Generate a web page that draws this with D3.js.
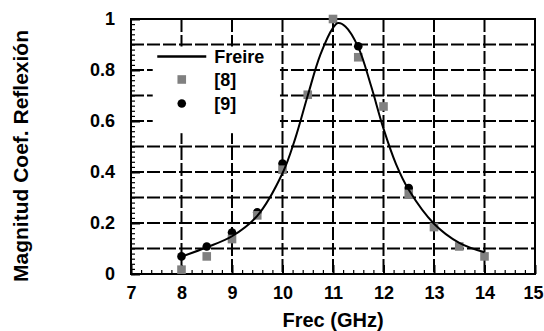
<!DOCTYPE html>
<html>
<head>
<meta charset="utf-8">
<script src="https://cdn.jsdelivr.net/npm/d3@7"></script>
<style>
  body { margin: 0; background: #fff; }
  svg text { font-family: "Liberation Sans", Arial, sans-serif; font-weight: bold; fill: #000; }
</style>
</head>
<body>
<div id="chart"></div>
<script>
// Freire (model curve)
const freireFreq = [8, 8.5, 9, 9.5, 10, 10.25, 10.5, 10.75, 11, 11.1, 11.25, 11.5, 11.75, 12, 12.25, 12.5, 13, 13.5, 14];
const freireMag  = [0.068, 0.105, 0.148, 0.228, 0.395, 0.53, 0.70, 0.86, 0.965, 0.984, 0.97, 0.89, 0.74, 0.57, 0.43, 0.33, 0.197, 0.122, 0.085];

// reference [8] (grey squares)
const ref8Freq = [8, 8.5, 9, 9.5, 10, 10.5, 11, 11.5, 12, 12.5, 13, 13.5, 14];
const ref8Mag  = [0.017, 0.069, 0.137, 0.23, 0.409, 0.703, 1.0, 0.85, 0.657, 0.314, 0.184, 0.108, 0.069];

// reference [9] (black dots)
const ref9Freq = [8, 8.5, 9, 9.5, 10, 11.5, 12.5];
const ref9Mag  = [0.069, 0.108, 0.163, 0.242, 0.433, 0.893, 0.337];

const xTicks = [7, 8, 9, 10, 11, 12, 13, 14, 15];
const yTicks = [0, 0.2, 0.4, 0.6, 0.8, 1];
const yTickLabels = ['0', '0.2', '0.4', '0.6', '0.8', '1'];

const width = 544, height = 331;
const margin = { top: 19, right: 9, bottom: 57, left: 131 };
const w = width - margin.left - margin.right;
const h = height - margin.top - margin.bottom;

const svg = d3.select('#chart').append('svg')
  .attr('width', width)
  .attr('height', height);

const g = svg.append('g')
  .attr('transform', `translate(${margin.left},${margin.top})`);

const x = d3.scaleLinear().domain([7, 15]).range([0, w]);
const y = d3.scaleLinear().domain([0, 1]).range([h, 0]);

// dashed grid
g.selectAll('.vgrid')
  .data(d3.range(8, 15))
  .enter().append('line')
  .attr('x1', d => x(d)).attr('x2', d => x(d))
  .attr('y1', 0).attr('y2', h)
  .attr('stroke', '#000').attr('stroke-width', 2)
  .attr('stroke-dasharray', '13,3');

g.selectAll('.hgrid')
  .data(d3.range(1, 10).map(d => d / 10))
  .enter().append('line')
  .attr('x1', 0).attr('x2', w)
  .attr('y1', d => y(d)).attr('y2', d => y(d))
  .attr('stroke', '#000').attr('stroke-width', 2)
  .attr('stroke-dasharray', '13,3');

// minor / major ticks pointing inwards
const xMinor = d3.range(7, 15.001, 0.2);
const yMinor = d3.range(0, 1.001, 0.02);

g.append('g')
  .attr('transform', `translate(0,${h})`)
  .call(d3.axisBottom(x).tickValues(xMinor).tickSize(-4).tickFormat(''))
  .call(a => a.select('.domain').remove())
  .selectAll('line').attr('stroke-width', 1.2);

g.append('g')
  .attr('transform', `translate(0,${h})`)
  .call(d3.axisBottom(x).tickValues(xTicks).tickSize(-9).tickPadding(12)
    .tickFormat(d3.format('d')))
  .call(a => a.select('.domain').remove())
  .call(a => a.selectAll('line').attr('stroke-width', 2))
  .selectAll('text')
  .style('font-size', '18px')
  .attr('dx', d => d === 15 ? -2 : 0);

g.append('g')
  .call(d3.axisLeft(y).tickValues(yMinor).tickSize(-4).tickFormat(''))
  .call(a => a.select('.domain').remove())
  .selectAll('line').attr('stroke-width', 1.2);

g.append('g')
  .call(d3.axisLeft(y).tickValues(yTicks).tickSize(-9).tickPadding(16)
    .tickFormat((d, i) => yTickLabels[i]))
  .call(a => a.select('.domain').remove())
  .call(a => a.selectAll('line').attr('stroke-width', 2))
  .selectAll('text')
  .style('font-size', '18px');

// frame
g.append('rect')
  .attr('x', 0).attr('y', 0)
  .attr('width', w).attr('height', h)
  .attr('fill', 'none')
  .attr('stroke', '#000')
  .attr('stroke-width', 2);

// legend background
g.append('rect')
  .attr('x', x(7.43)).attr('y', y(0.9) + 2)
  .attr('width', x(9.95) - x(7.43))
  .attr('height', y(0.56) - y(0.9))
  .attr('fill', '#fff');

// data
const circles = ref9Freq.map((f, i) => ({ f, m: ref9Mag[i] }));
const squares = ref8Freq.map((f, i) => ({ f, m: ref8Mag[i] }));
const curve = freireFreq.map((f, i) => ({ f, m: freireMag[i] }));

g.selectAll('.dot9')
  .data(circles)
  .enter().append('circle')
  .attr('cx', d => x(d.f))
  .attr('cy', d => y(d.m))
  .attr('r', 4.3)
  .attr('fill', '#000');

g.selectAll('.sq8')
  .data(squares)
  .enter().append('rect')
  .attr('x', d => x(d.f) - 4.3)
  .attr('y', d => y(d.m) - 4.3)
  .attr('width', 8.6).attr('height', 8.6)
  .attr('fill', '#808080');

const line = d3.line()
  .x(d => x(d.f))
  .y(d => y(d.m))
  .curve(d3.curveCatmullRom.alpha(0.5));

g.append('path')
  .datum(curve)
  .attr('fill', 'none')
  .attr('stroke', '#000')
  .attr('stroke-width', 2)
  .attr('d', line);

// legend
const lx = x(7.52), ly = y(0.853);
g.append('line')
  .attr('x1', lx).attr('x2', lx + 49)
  .attr('y1', ly).attr('y2', ly)
  .attr('stroke', '#000').attr('stroke-width', 2.5);
g.append('rect')
  .attr('x', lx + 24.5 - 4.3).attr('y', ly + 23 - 4.3)
  .attr('width', 8.6).attr('height', 8.6)
  .attr('fill', '#808080');
g.append('circle')
  .attr('cx', lx + 24.5).attr('cy', ly + 47)
  .attr('r', 4.3).attr('fill', '#000');

const legendLabels = ['Freire', '[8]', '[9]'];
g.selectAll('.leg')
  .data(legendLabels)
  .enter().append('text')
  .attr('x', lx + 57)
  .attr('y', (d, i) => ly + i * 23.5)
  .attr('dy', '0.35em')
  .style('font-size', '18px')
  .text(d => d);

// axis titles
svg.append('text')
  .attr('x', 333).attr('y', 327)
  .attr('text-anchor', 'middle')
  .style('font-size', '20px')
  .text('Frec (GHz)');

svg.append('text')
  .attr('transform', 'translate(28,156) rotate(-90)')
  .attr('text-anchor', 'middle')
  .style('font-size', '21px')
  .text('Magnitud Coef. Reflexión');
</script>
</body>
</html>
